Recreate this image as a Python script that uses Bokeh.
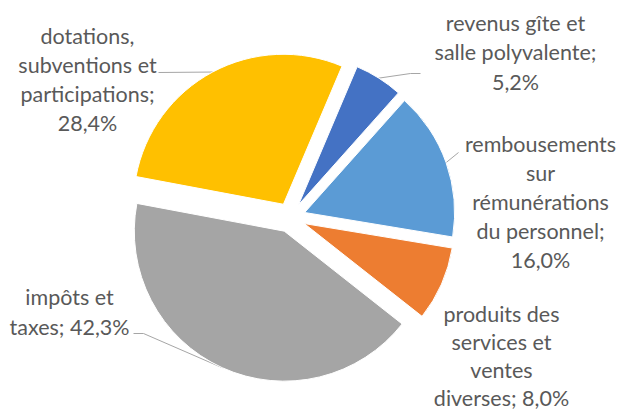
import numpy as np
from bokeh.plotting import figure
from bokeh.models import Range1d, ColumnDataSource
from bokeh.core.properties import value
from bokeh.embed import file_html
from bokeh.resources import INLINE

# ---- data ----
categories = [
    "revenus gîte et salle polyvalente",
    "rembousements sur rémunérations du personnel",
    "produits des services et ventes diverses",
    "impôts et taxes",
    "dotations, subventions et participations",
]
values = [5.2, 16.0, 8.0, 42.3, 28.4]
colors = ["#4472C4", "#5B9BD5", "#ED7D31", "#A5A5A5", "#FFC000"]
label_lines = [
    ["revenus gîte et", "salle polyvalente;", "{p}"],
    ["rembousements", "sur", "rémunérations", "du personnel;", "{p}"],
    ["produits des", "services et", "ventes", "diverses; {p}"],
    ["impôts et", "taxes; {p}"],
    ["dotations,", "subventions et", "participations;", "{p}"],
]

# ---- layout (pixel coordinates of the screenshot) ----
W, H = 620, 412
CX, CY = 290, 217
R = 150
EXPLODE = 15
FIRST_ANGLE = 23.0  # degrees clockwise from 12 o'clock
label_anchor = [(515, 22), (540, 143), (501, 313), (69, 296), (87, 35)]
label_step = [29.5, 29.0, 28.0, 30.0, 29.3]
leader_elbows = [[(420, 73), (410, 73)], [(458, 152)], None, [(133, 333), (143, 333)], [(158, 72)]]
FONT = "Lato"
FONT_SIZE = "21.5px"
TEXT_COLOR = "#595959"
LEADER_COLOR = "#A6A6A6"


def Y(py):
    return H - py


p = figure(width=W, height=H, output_backend="svg", toolbar_location=None,
           x_range=Range1d(0, W), y_range=Range1d(0, H),
           min_border=0)
p.axis.visible = False
p.grid.visible = False
p.outline_line_color = None
p.background_fill_color = "white"

vals = np.array(values, dtype=float)
frac = vals / vals.sum()
theta = FIRST_ANGLE + 360.0 * np.concatenate([[0], np.cumsum(frac)])

xs, ys, starts, ends = [], [], [], []
for i in range(len(values)):
    t1, t2 = theta[i], theta[i + 1]
    mid = np.radians((t1 + t2) / 2)
    dx, dy = np.sin(mid), np.cos(mid)
    cx = CX + EXPLODE * dx
    cy = Y(CY) + EXPLODE * dy
    xs.append(cx)
    ys.append(cy)
    starts.append(np.radians(90 - t2))
    ends.append(np.radians(90 - t1))

    # leader line
    if leader_elbows[i] is not None:
        px = cx + R * dx
        py = cy + R * dy
        lx = [pt[0] for pt in leader_elbows[i]] + [px]
        ly = [Y(pt[1]) for pt in leader_elbows[i]] + [py]
        p.line(lx, ly, line_color=LEADER_COLOR, line_width=1)

src = ColumnDataSource(dict(x=xs, y=ys, start=starts, end=ends, color=colors, cat=categories))
p.wedge(x="x", y="y", radius=R, start_angle="start", end_angle="end",
        fill_color="color", line_color="white", line_width=1, source=src)

tx, ty, tt = [], [], []
for i, lines in enumerate(label_lines):
    pct = f"{values[i]:.1f}".replace(".", ",") + "%"
    ax, ay = label_anchor[i]
    for j, ln in enumerate(lines):
        tx.append(ax)
        ty.append(Y(ay + j * label_step[i]))
        tt.append(ln.replace("{p}", pct))

p.text(tx, ty, text=tt, text_align="center", text_baseline="middle",
       text_font=value(FONT), text_font_size=FONT_SIZE, text_color=TEXT_COLOR)

open("out.html", "w").write(file_html(p, INLINE))
